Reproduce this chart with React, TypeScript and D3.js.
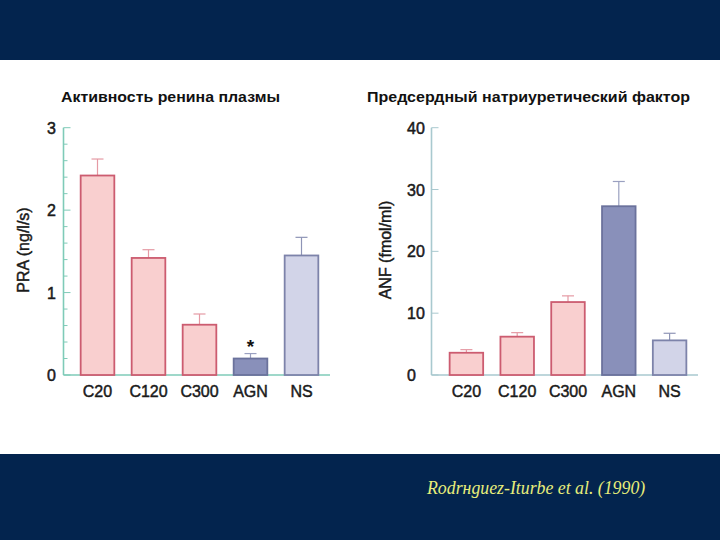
import React from "react";
import * as d3 from "d3";

const categories = ["C20", "C120", "C300", "AGN", "NS"];
const praValues = [2.42, 1.42, 0.61, 0.2, 1.45];
const praErrors = [0.2, 0.1, 0.13, 0.06, 0.22];
const anfValues = [3.6, 6.2, 11.8, 27.3, 5.6];
const anfErrors = [0.5, 0.65, 1.0, 4.0, 1.15];
const praTicks = [0, 1, 2, 3];
const anfTicks = [0, 10, 20, 30, 40];
const groupKinds = ["c", "c", "c", "agn", "ns"];

const fills: Record<string, string> = { c: "#f9cfcf", agn: "#8990ba", ns: "#d2d4e8" };
const strokes: Record<string, string> = { c: "#cc5c70", agn: "#6b729c", ns: "#7d83aa" };
const errColors: Record<string, string> = { c: "#e59aa4", agn: "#9aa0c0", ns: "#8e94b6" };

const FONT = "'Liberation Sans', Arial, Helvetica, sans-serif";

type PanelProps = {
  values: number[];
  errors: number[];
  ticks: number[];
  max: number;
  minorStep: number | null;
  axisX: number;
  axisEnd: number;
  bandRange: [number, number];
  axisColor: string;
  tickLabelX: number;
  yLabel: string;
  yLabelX: number;
  star?: number;
};

function Panel(p: PanelProps) {
  const y = d3.scaleLinear().domain([0, p.max]).range([375, 127.7]);
  const x = d3.scaleBand<string>().domain(categories).range(p.bandRange).paddingInner(0.34).paddingOuter(0.17);
  const minor = p.minorStep ? d3.range(0, p.max + 1e-9, p.minorStep).filter((v) => !p.ticks.some((t) => Math.abs(t - v) < 1e-6)) : [];
  return (
    <g>
      <line x1={p.axisX} x2={p.axisX} y1={y(p.max)} y2={y(0)} stroke={p.axisColor} strokeWidth={1.6} />
      <line x1={p.axisX} x2={p.axisEnd} y1={y(0)} y2={y(0)} stroke={p.axisColor} strokeWidth={1.6} />
      {p.ticks.map((t) => (
        <g key={t}>
          <line x1={p.axisX} x2={p.axisX + 7} y1={y(t)} y2={y(t)} stroke={p.axisColor} strokeWidth={1} />
          <text x={p.tickLabelX} y={y(t) + 6} fontFamily={FONT} fontSize={16} fill="#1a1a1a" stroke="#1a1a1a" strokeWidth={0.5}>{t}</text>
        </g>
      ))}
      {minor.map((t) => (
        <line key={"m" + t} x1={p.axisX} x2={p.axisX + 4} y1={y(t)} y2={y(t)} stroke={p.axisColor} strokeWidth={1} />
      ))}
      {categories.map((c, i) => {
        const k = groupKinds[i];
        const bx = x(c)!;
        const bw = x.bandwidth();
        const cx = bx + bw / 2;
        const top = y(p.values[i]);
        const et = y(p.values[i] + p.errors[i]);
        return (
          <g key={c}>
            <line x1={cx} x2={cx} y1={top} y2={et} stroke={errColors[k]} strokeWidth={1.2} />
            <line x1={cx - 6} x2={cx + 6} y1={et} y2={et} stroke={errColors[k]} strokeWidth={1.2} />
            <rect x={bx} y={top} width={bw} height={y(0) - top} fill={fills[k]} stroke={strokes[k]} strokeWidth={1.8} />
            <text x={cx} y={397} textAnchor="middle" fontFamily={FONT} fontSize={16} fill="#1a1a1a" stroke="#1a1a1a" strokeWidth={0.45}>{c}</text>
          </g>
        );
      })}
      {p.star !== undefined && (
        <text x={x(categories[p.star])! + x.bandwidth() / 2} y={y(p.values[p.star] + p.errors[p.star]) - 1} textAnchor="middle" fontFamily={FONT} fontSize={19} fontWeight="bold" fill="#111">*</text>
      )}
      <text transform={`translate(${p.yLabelX},250) rotate(-90)`} textAnchor="middle" fontFamily={FONT} fontSize={16} fill="#1a1a1a" stroke="#1a1a1a" strokeWidth={0.45}>{p.yLabel}</text>
    </g>
  );
}

export default function App() {
  return (
    <svg width={720} height={540} style={{ position: "absolute", left: 0, top: 0, display: "block" }}>
      <rect x={0} y={0} width={720} height={540} fill="#ffffff" />
      <rect x={0} y={0} width={720} height={60} fill="#03244e" />
      <rect x={0} y={454} width={720} height={86} fill="#03244e" />
      <text x={61} y={102} fontFamily={FONT} fontSize={15} fontWeight="bold" fill="#111" textLength={219} lengthAdjust="spacingAndGlyphs">Активность ренина плазмы</text>
      <text x={367} y={102} fontFamily={FONT} fontSize={15} fontWeight="bold" fill="#111" textLength={323} lengthAdjust="spacingAndGlyphs">Предсердный натриуретический фактор</text>
      <Panel values={praValues} errors={praErrors} ticks={praTicks} max={3} minorStep={0.2} axisX={63.5} axisEnd={330} bandRange={[72, 327]} axisColor="#7fcbb8" tickLabelX={47} yLabel="PRA (ng/l/s)" yLabelX={29} star={3} />
      <Panel values={anfValues} errors={anfErrors} ticks={anfTicks} max={40} minorStep={null} axisX={431.5} axisEnd={698} bandRange={[441, 695]} axisColor="#a9c9cf" tickLabelX={407} yLabel="ANF (fmol/ml)" yLabelX={391} />
      <text x={427} y={494} fontFamily="'Liberation Serif', 'Times New Roman', serif" fontStyle="italic" fontSize={17.8} fill="#e8ee7a">Rodrнguez-Iturbe et al. (1990)</text>
    </svg>
  );
}
